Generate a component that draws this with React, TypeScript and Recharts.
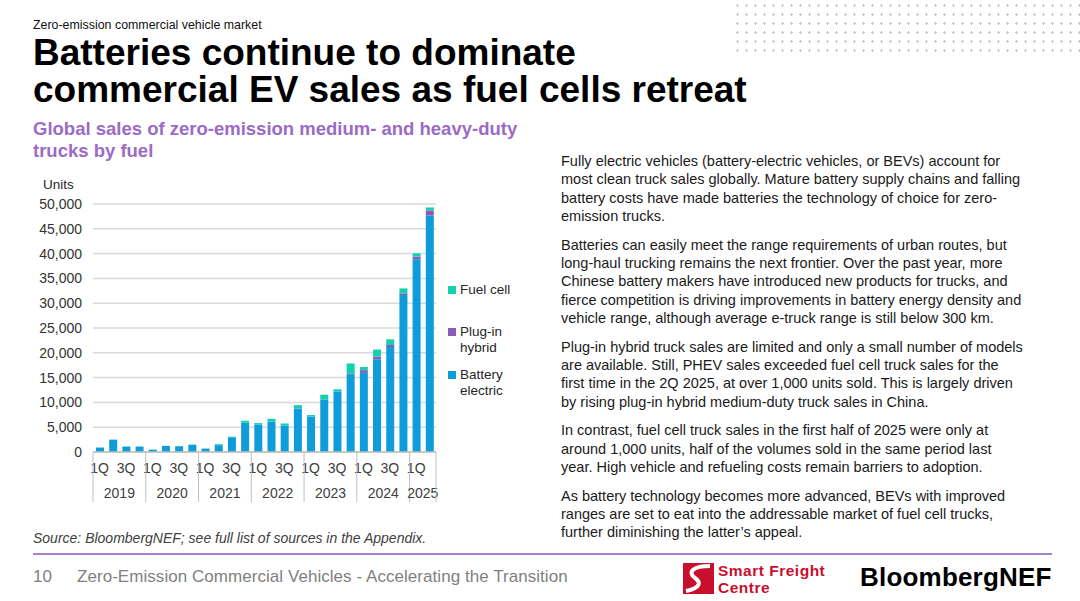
import { BarChart, Bar, XAxis, YAxis, CartesianGrid } from 'recharts'

const YEARS = ['2019', '2020', '2021', '2022', '2023', '2024', '2025']
const QUARTERS = ['1Q', '2Q', '3Q', '4Q']

// units per quarter, 1Q 2019 .. 2Q 2025
const BATTERY = [
  900, 2500, 1100, 1100, 480, 1230, 1160, 1420, 690, 1380, 2980, 5900, 5500, 6100, 5350, 8750,
  7150, 10600, 12200, 15700, 15950, 18700, 21150, 31650, 38850, 47650,
]
const HYBRID = [
  0, 0, 0, 0, 0, 0, 0, 0, 0, 0, 0, 0, 0, 0, 0, 50, 0, 0, 50, 150, 550, 550, 420, 330, 540, 1050,
]
const FUEL = [
  0, 0, 0, 0, 0, 0, 0, 80, 0, 200, 100, 400, 330, 600, 420, 650, 300, 950, 400, 2000, 650, 1400,
  1150, 1000, 650, 600,
]
const Y_TICKS = [0, 5000, 10000, 15000, 20000, 25000, 30000, 35000, 40000, 45000, 50000]

const SERIES = [
  { key: 'fuel', name: 'Fuel cell', lines: ['Fuel cell'], color: '#12D2AE' },
  { key: 'hybrid', name: 'Plug-in hybrid', lines: ['Plug-in', 'hybrid'], color: '#8C5BB5' },
  { key: 'battery', name: 'Battery electric', lines: ['Battery', 'electric'], color: '#0F9CDA' },
]

const PARAGRAPHS = [
  [
    'Fully electric vehicles (battery-electric vehicles, or BEVs) account for',
    'most clean truck sales globally. Mature battery supply chains and falling',
    'battery costs have made batteries the technology of choice for zero-',
    'emission trucks.',
  ],
  [
    'Batteries can easily meet the range requirements of urban routes, but',
    'long-haul trucking remains the next frontier. Over the past year, more',
    'Chinese battery makers have introduced new products for trucks, and',
    'fierce competition is driving improvements in battery energy density and',
    'vehicle range, although average e-truck range is still below 300 km.',
  ],
  [
    'Plug-in hybrid truck sales are limited and only a small number of models',
    'are available. Still, PHEV sales exceeded fuel cell truck sales for the',
    'first time in the 2Q 2025, at over 1,000 units sold. This is largely driven',
    'by rising plug-in hybrid medium-duty truck sales in China.',
  ],
  [
    'In contrast, fuel cell truck sales in the first half of 2025 were only at',
    'around 1,000 units, half of the volumes sold in the same period last',
    'year. High vehicle and refueling costs remain barriers to adoption.',
  ],
  [
    'As battery technology becomes more advanced, BEVs with improved',
    'ranges are set to eat into the addressable market of fuel cell trucks,',
    'further diminishing the latter\u2019s appeal.',
  ],
]

const data = BATTERY.map((battery, i) => ({
  key: `${QUARTERS[i % 4]} ${YEARS[Math.floor(i / 4)]}`,
  quarter: QUARTERS[i % 4],
  year: YEARS[Math.floor(i / 4)],
  battery,
  hybrid: HYBRID[i],
  fuel: FUEL[i],
}))

const FONT = '"Liberation Sans", Arial, sans-serif'
const CHART_W = 420
const CHART_H = 340
const MARGIN = { top: 34, right: 14, bottom: 0, left: 8 }
const Y_AXIS_W = 55
const BAND = (CHART_W - MARGIN.left - MARGIN.right - Y_AXIS_W) / data.length

const fmt = (v: number) => v.toLocaleString('en-US')

function PeriodTick(props: any) {
  const { x, y, index } = props
  const row = data[index]
  if (!row) return null
  const half = BAND / 2
  const first = index % 4 === 0
  const last = index === data.length - 1
  const count = Math.min(4, data.length - index)
  return (
    <g>
      {(row.quarter === '1Q' || row.quarter === '3Q') && (
        <text x={x} y={y + 21} textAnchor="middle" fontSize={14} fill="#404040">
          {row.quarter}
        </text>
      )}
      {first && <line x1={x - half} x2={x - half} y1={y} y2={y + 50} stroke="#bfbfbf" />}
      {first && (
        <text x={x - half + count * half} y={y + 46} textAnchor="middle" fontSize={14} fill="#404040">
          {row.year}
        </text>
      )}
      {last && <line x1={x + half} x2={x + half} y1={y} y2={y + 50} stroke="#bfbfbf" />}
    </g>
  )
}

function SmartFreightMark() {
  return (
    <svg width={31} height={31} viewBox="0 0 31 31">
      <rect width={31} height={31} fill="#C8102E" />
      <path d="M27 3 C10 3 4 9 12 15 C18 19 18 25 3 28" stroke="#fff" strokeWidth={4} fill="none" />
    </svg>
  )
}

export default function App() {
  return (
    <div
      style={{
        position: 'absolute',
        left: 0,
        top: 0,
        width: 1080,
        height: 601,
        background: '#fff',
        fontFamily: FONT,
        color: '#1a1a1a',
        overflow: 'hidden',
      }}
    >
      {/* dotted decoration */}
      <div
        style={{
          position: 'absolute',
          left: 733,
          top: 1,
          width: 347,
          height: 54,
          backgroundImage: 'radial-gradient(circle, #c8c8c8 1px, transparent 1.3px)',
          backgroundSize: '9px 9px',
        }}
      />

      <div style={{ position: 'absolute', left: 33, top: 18, fontSize: 12.4, lineHeight: '14px', color: '#111' }}>
        Zero-emission commercial vehicle market
      </div>
      <div
        style={{
          position: 'absolute',
          left: 33,
          top: 34,
          fontSize: 37,
          lineHeight: '37px',
          fontWeight: 700,
          color: '#000',
          whiteSpace: 'nowrap',
        }}
      >
        Batteries continue to dominate
        <br />
        commercial EV sales as fuel cells retreat
      </div>
      <div
        style={{
          position: 'absolute',
          left: 33,
          top: 118,
          fontSize: 18.5,
          lineHeight: '22px',
          fontWeight: 700,
          color: '#9B6BC5',
          whiteSpace: 'nowrap',
        }}
      >
        Global sales of zero-emission medium- and heavy-duty
        <br />
        trucks by fuel
      </div>

      <div style={{ position: 'absolute', left: 43, top: 177, fontSize: 13.5, color: '#262626' }}>Units</div>

      <div style={{ position: 'absolute', left: 30, top: 170 }}>
        <BarChart width={CHART_W} height={CHART_H} data={data} margin={MARGIN} barSize={8}>
          <CartesianGrid vertical={false} stroke="#d9d9d9" strokeWidth={1.5} />
          <XAxis
            dataKey="key"
            interval={0}
            height={58}
            tickSize={0}
            tickMargin={0}
            tickLine={false}
            axisLine={{ stroke: '#bfbfbf', strokeWidth: 1.5 }}
            tick={<PeriodTick />}
          />
          <YAxis
            width={Y_AXIS_W}
            domain={[0, 50000]}
            ticks={Y_TICKS}
            tickFormatter={fmt}
            axisLine={false}
            tickLine={false}
            tickMargin={5}
            tick={{ fontSize: 14, fill: '#333', fontFamily: FONT }}
          />
          {[...SERIES].reverse().map((s) => (
            <Bar key={s.key} dataKey={s.key} name={s.name} stackId="a" fill={s.color} isAnimationActive={false} />
          ))}
        </BarChart>
      </div>

      {/* legend */}
      {SERIES.map((s, i) => (
        <div
          key={s.key}
          style={{
            position: 'absolute',
            left: 448,
            top: [282, 324, 367][i],
            fontSize: 13.5,
            lineHeight: '16px',
            color: '#262626',
            display: 'flex',
            alignItems: 'flex-start',
          }}
        >
          <span style={{ width: 8, height: 8, background: s.color, marginTop: 4, marginRight: 4 }} />
          <span>
            {s.lines.map((l) => (
              <div key={l}>{l}</div>
            ))}
          </span>
        </div>
      ))}

      {/* commentary */}
      <div
        style={{
          position: 'absolute',
          left: 561,
          top: 152,
          fontSize: 14.5,
          lineHeight: '18.4px',
          color: '#1a1a1a',
          whiteSpace: 'nowrap',
        }}
      >
        {PARAGRAPHS.map((p, i) => (
          <div key={i} style={{ marginBottom: 10 }}>
            {p.map((l) => (
              <div key={l}>{l}</div>
            ))}
          </div>
        ))}
      </div>

      <div
        style={{
          position: 'absolute',
          left: 33,
          top: 530,
          fontSize: 14,
          fontStyle: 'italic',
          color: '#404040',
          whiteSpace: 'nowrap',
        }}
      >
        Source: BloombergNEF; see full list of sources in the Appendix.
      </div>

      <div style={{ position: 'absolute', left: 33, top: 553, width: 1019, height: 1.5, background: '#A57FD0' }} />

      <div style={{ position: 'absolute', left: 33, top: 567, fontSize: 17, color: '#7f7f7f', whiteSpace: 'nowrap' }}>
        10
      </div>
      <div
        style={{
          position: 'absolute',
          left: 77,
          top: 567,
          fontSize: 17,
          letterSpacing: 0.05,
          color: '#7f7f7f',
          whiteSpace: 'nowrap',
        }}
      >
        Zero-Emission Commercial Vehicles - Accelerating the Transition
      </div>

      <div style={{ position: 'absolute', left: 683, top: 563 }}>
        <SmartFreightMark />
      </div>
      <div
        style={{
          position: 'absolute',
          left: 718,
          top: 562,
          fontSize: 15.5,
          lineHeight: '17px',
          letterSpacing: 0.5,
          fontWeight: 700,
          color: '#C8102E',
          whiteSpace: 'nowrap',
        }}
      >
        <div>Smart Freight</div>
        <div>Centre</div>
      </div>
      <div
        style={{
          position: 'absolute',
          left: 860,
          top: 562,
          fontSize: 26,
          fontWeight: 700,
          letterSpacing: 0.2,
          color: '#000',
          whiteSpace: 'nowrap',
        }}
      >
        BloombergNEF
      </div>
    </div>
  )
}
